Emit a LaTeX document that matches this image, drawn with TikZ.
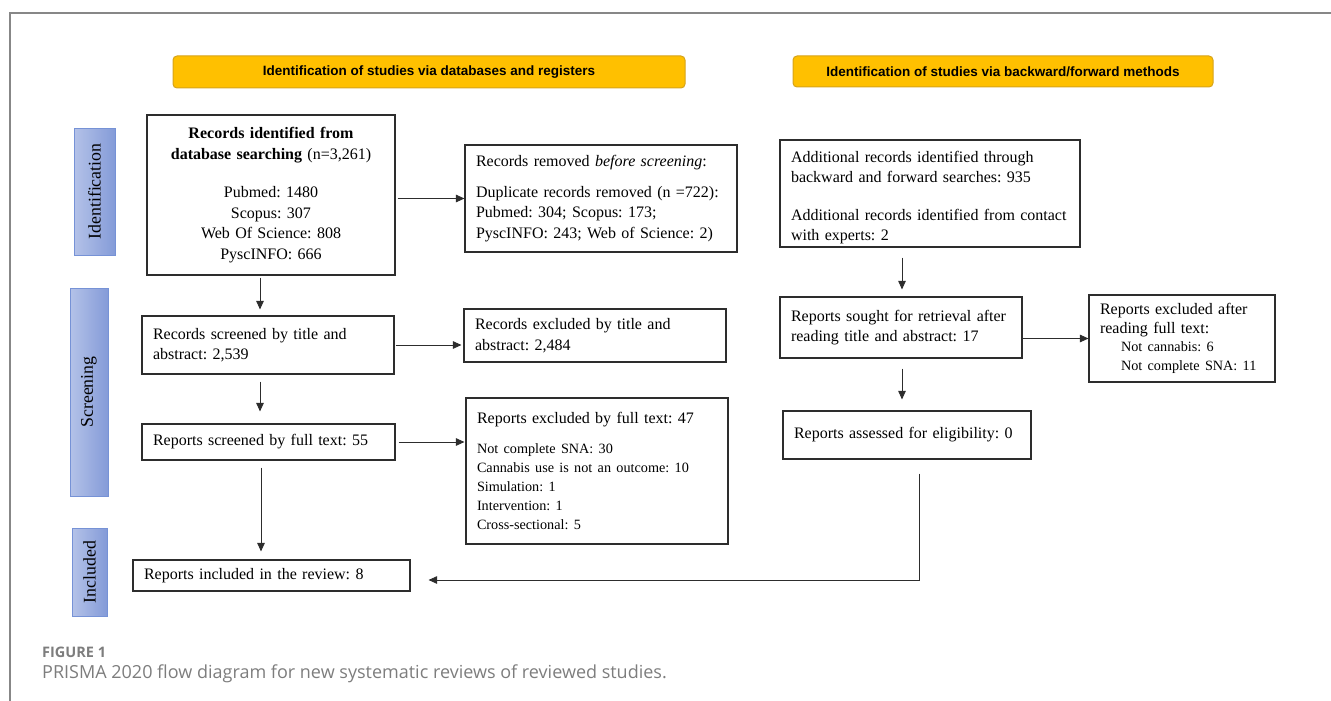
\documentclass[tikz,border=0pt]{standalone}
\usepackage{fontspec}
\setmainfont{Liberation Serif}
\newfontfamily\bannerfont{Liberation Sans}
\newfontfamily\capfont{Open Sans}
\usetikzlibrary{arrows.meta}
\definecolor{gold}{RGB}{255,192,0}
\definecolor{golddark}{RGB}{214,163,26}
\definecolor{sidel}{RGB}{180,194,232}
\definecolor{sider}{RGB}{132,155,216}
\definecolor{sideb}{RGB}{118,146,214}
\definecolor{framec}{RGB}{135,135,135}
\definecolor{capc}{RGB}{125,125,125}
\definecolor{boxc}{RGB}{45,45,45}
\tikzset{
  box/.style={draw=boxc, line width=1.1pt, fill=white, inner xsep=11pt, inner ysep=2pt,
    font=\fontsize{16}{20.5}\selectfont, align=left},
  banner/.style={draw=golddark, fill=gold, line width=1pt, rounded corners=4pt,
    font=\bannerfont\bfseries\fontsize{13.5}{15}\selectfont},
  side/.style={draw=sideb, line width=0.8pt, left color=sidel, right color=sider,
    inner sep=0pt, font=\fontsize{17.8}{19}\selectfont},
  arr/.style={draw=boxc, line width=0.9pt, -{Triangle[length=8.5pt,width=7.5pt]}},
}
\newcommand{\lst}{\fontsize{14.2}{19}\selectfont}
\begin{document}
\frenchspacing
\begin{tikzpicture}[x=1pt,y=-1pt]
\useasboundingbox (0,0) rectangle (1331,701);
% frame
\draw[framec, line width=1.2pt] (1331,13) -- (10,13) -- (10,701);
% banners
\node[banner, minimum width=512pt, minimum height=32pt] (b1) at (429,72) {Identification of studies via databases and registers};
\node[banner, minimum width=420pt, minimum height=31pt] (b2) at (1003,71.5) {Identification of studies via backward/forward methods};
% side labels
\node[side, minimum width=41pt, minimum height=127pt] (s1) at (94.5,191.5) {\rotatebox{90}{Identification}};
\node[side, minimum width=38pt, minimum height=208pt] (s2) at (89,392) {\rotatebox{90}{Screening}};
\node[side, minimum width=35pt, minimum height=88pt] (s3) at (89.5,572) {\rotatebox{90}{Included}};
% left column
\node[box, align=center, text width=226pt, minimum height=160pt] (A) at (271,195)
  {\textbf{Records identified from}\\\textbf{database searching} (n=3,261)\\[18pt]
   Pubmed: 1480\\Scopus: 307\\Web Of Science: 808\\PyscINFO: 666};
\node[box, text width=250pt, minimum height=107pt] (B) at (601,198.5)
  {Records removed \textit{before screening}:\\[10pt]
   Duplicate records removed (n =722):\\Pubmed: 304; Scopus: 173;\\PyscINFO: 243; Web of Science: 2)};
\node[box, text width=230pt, minimum height=58pt] (C) at (268,345)
  {Records screened by title and\\abstract: 2,539};
\node[box, text width=240pt, minimum height=53pt] (D) at (595,335.5)
  {Records excluded by title and\\abstract: 2,484};
\node[box, text width=231pt, minimum height=36pt] (E) at (268.5,442)
  {Reports screened by full text: 55};
\node[box, text width=240pt, minimum height=146pt] (F) at (597,471)
  {Reports excluded by full text: 47\\[11pt]\lst
   Not complete SNA: 30\\
   Cannabis use is not an outcome: 10\\
   Simulation: 1\\
   Intervention: 1\\
   Cross-sectional: 5\\[6pt]};
\node[box, text width=255pt, minimum height=31pt] (G) at (271.5,575.5)
  {Reports included in the review: 8};
% right column
\node[box, text width=278pt, minimum height=107pt] (H) at (930,193.5)
  {\rule{0pt}{19pt}Additional records identified through\\backward and forward searches: 935\\[17pt]
   \mbox{Additional records identified from contact}\\with experts: 2};
\node[box, text width=220pt, minimum height=61pt] (I) at (901,327.5)
  {Reports sought for retrieval after\\reading title and abstract: 17};
\node[box, text width=164pt, minimum height=87pt, font=\fontsize{16}{18.5}\selectfont] (J) at (1182,338.5)
  {Reports excluded after\\reading full text:\\
   \hspace*{21pt}{\lst Not cannabis: 6}\\\hspace*{21pt}{\lst Not complete SNA: 11}};
\node[box, text width=226pt, minimum height=48pt] (K) at (907,435)
  {Reports assessed for eligibility: 0};
% columns for vertical connectors
\coordinate (cl) at (260,0);
\coordinate (cl2) at (261,0);
\coordinate (cr) at (902,0);
\coordinate (cr2) at (919,0);
% connectors
\draw[arr, shorten <=2pt] (A.east |- B.west) -- (B.west);
\draw[arr, shorten <=1pt, shorten >=2pt] (C.east) -- (C.east -| D.west);
\draw[arr, shorten <=3pt, shorten >=1pt] (E.east) -- (E.east -| F.west);
\draw[arr] (I.east |- J.west) -- (J.west);
\draw[arr, shorten <=2pt, shorten >=6pt] (A.south -| cl) -- (C.north -| cl);
\draw[arr, shorten <=7pt, shorten >=12pt] (C.south -| cl) -- (E.north -| cl);
\draw[arr, shorten <=7pt, shorten >=8pt] (E.south -| cl2) -- (G.north -| cl2);
\draw[arr, shorten <=10pt, shorten >=7pt] (H.south -| cr) -- (I.north -| cr);
\draw[arr, shorten <=10pt, shorten >=11pt] (I.south -| cr) -- (K.north -| cr);
\draw[arr, shorten <=14pt, shorten >=18pt] (K.south -| cr2) |- ([yshift=-4.5pt]G.east);
% caption
\node[anchor=base west, inner sep=0pt, text=capc, font=\capfont\bfseries\fontsize{14.5}{16}\selectfont] (cap1) at (42,657) {FIGURE 1};
\node[anchor=base west, inner sep=0pt, text=capc, font=\capfont\fontsize{18}{21}\selectfont] (cap2) at (42,678) {PRISMA 2020 flow diagram for new systematic reviews of reviewed studies.};
\end{tikzpicture}
\end{document}
